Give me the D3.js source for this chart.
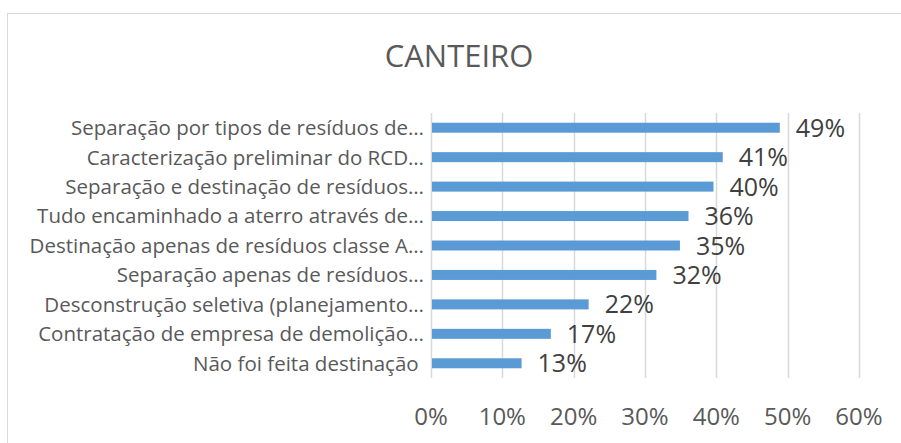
<!DOCTYPE html>
<html>
<head>
<meta charset="utf-8">
<script src="https://cdn.jsdelivr.net/npm/d3@7"></script>
<style>
  body { margin: 0; background: #fff; }
  text { font-family: "Open Sans", sans-serif; }
</style>
</head>
<body>
<div id="viz"></div>
<script>
const categories = [
  'Separação por tipos de resíduos de…',
  'Caracterização preliminar do RCD…',
  'Separação e destinação de resíduos…',
  'Tudo encaminhado a aterro através de…',
  'Destinação apenas de resíduos classe A…',
  'Separação apenas de resíduos…',
  'Desconstrução seletiva (planejamento…',
  'Contratação de empresa de demolição…',
  'Não foi feita destinação '
];
const values = [0.489, 0.409, 0.396, 0.361, 0.349, 0.316, 0.221, 0.168, 0.127];
const ticks = [0, 0.1, 0.2, 0.3, 0.4, 0.5, 0.6];

const width = 901;
const height = 443;

const svg = d3.select('#viz')
  .append('svg')
  .attr('width', width)
  .attr('height', height);

// chart border (cut at right and bottom like the original)
svg.append('rect')
  .attr('x', 7.5).attr('y', 13.5)
  .attr('width', 1000).attr('height', 1000)
  .attr('fill', 'none')
  .attr('stroke', '#d9d9d9');

svg.append('text')
  .attr('x', 459).attr('y', 67)
  .attr('text-anchor', 'middle')
  .attr('font-size', 31)
  .attr('fill', '#595959')
  .text('CANTEIRO');

const x = d3.scaleLinear()
  .domain([0, 0.6])
  .range([431, 859]);

const y = d3.scaleBand()
  .domain(categories)
  .range([113, 378])
  .paddingInner(0.66)
  .paddingOuter(0.33);

// gridlines
svg.selectAll('line.grid')
  .data(ticks)
  .enter()
  .append('line')
  .attr('x1', d => Math.round(x(d)) + 0.5)
  .attr('x2', d => Math.round(x(d)) + 0.5)
  .attr('y1', 113)
  .attr('y2', 378)
  .attr('stroke', '#d9d9d9')
  .attr('stroke-width', 1.5);

// tick labels
svg.selectAll('text.tick')
  .data(ticks)
  .enter()
  .append('text')
  .attr('x', d => x(d))
  .attr('y', 425)
  .attr('text-anchor', 'middle')
  .attr('font-size', 24)
  .attr('fill', '#595959')
  .text(d3.format('.0%'));

// bars
svg.selectAll('rect.bar')
  .data(values)
  .enter()
  .append('rect')
  .attr('x', x(0) + 1)
  .attr('y', (d, i) => y(categories[i]))
  .attr('width', d => x(d) - x(0) - 1)
  .attr('height', y.bandwidth())
  .attr('fill', '#5b9bd5');

// category labels
svg.selectAll('text.cat')
  .data(categories)
  .enter()
  .append('text')
  .attr('x', 424)
  .attr('y', d => y(d) + y.bandwidth() / 2)
  .attr('dy', '0.36em')
  .attr('text-anchor', 'end')
  .attr('font-size', 20.5)
  .attr('fill', '#595959')
  .style('white-space', 'pre')
  .text(d => d);

// data labels
svg.selectAll('text.val')
  .data(values)
  .enter()
  .append('text')
  .attr('x', d => x(d) + 16)
  .attr('y', (d, i) => y(categories[i]) + y.bandwidth() / 2)
  .attr('dy', '0.36em')
  .attr('font-size', 25)
  .attr('fill', '#404040')
  .text(d3.format('.0%'));
</script>
</body>
</html>
